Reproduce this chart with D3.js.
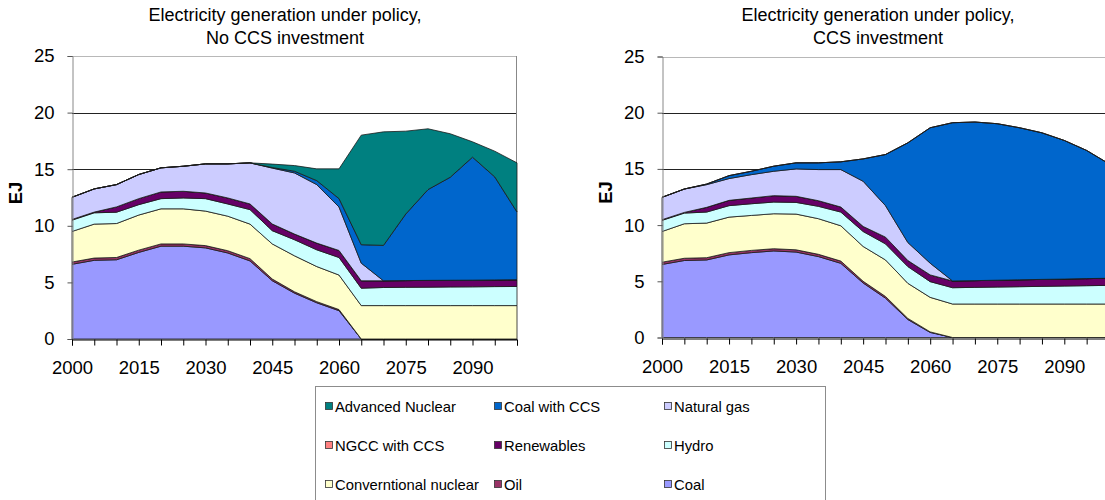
<!DOCTYPE html>
<html>
<head>
<meta charset="utf-8">
<script src="https://cdn.jsdelivr.net/npm/d3@7"></script>
<style>
  html, body { margin: 0; padding: 0; background: #fff; }
  svg { display: block; font-family: "Liberation Sans", Arial, sans-serif; }
</style>
</head>
<body>
<svg id="chart" width="1105" height="500"></svg>
<script>
// Categories (5-year steps) and the subset of labels printed on the axis
const years = [2000, 2005, 2010, 2015, 2020, 2025, 2030, 2035, 2040, 2045, 2050,
               2055, 2060, 2065, 2070, 2075, 2080, 2085, 2090, 2095, 2100];
const yearLabels = [2000, 2015, 2030, 2045, 2060, 2075, 2090];
const yTicks = [0, 5, 10, 15, 20, 25];

// Technologies, bottom of the stack first
const techKeys = ["coal", "oil", "nuclear", "hydro", "renewables", "ngccCcs", "gas", "coalCcs", "advNuclear"];
const techNames = {
  advNuclear: "Advanced Nuclear", coalCcs: "Coal with CCS", gas: "Natural gas",
  ngccCcs: "NGCC with CCS", renewables: "Renewables", hydro: "Hydro",
  nuclear: "Converntional nuclear", oil: "Oil", coal: "Coal"
};
const techColors = {
  advNuclear: "#008080", coalCcs: "#0066CC", gas: "#CCCCFF",
  ngccCcs: "#FF8080", renewables: "#660066", hydro: "#CCFFFF",
  nuclear: "#FFFFCC", oil: "#993366", coal: "#9999FF"
};
// Legend reading order (three per row)
const legendOrder = ["advNuclear", "coalCcs", "gas", "ngccCcs", "renewables", "hydro", "nuclear", "oil", "coal"];

// Scenario 1: no CCS investment (EJ)
const noCcsCoal       = [6.6, 6.95, 7.0, 7.65, 8.2, 8.2, 8.05, 7.6, 6.9, 5.15, 4.05, 3.2, 2.5, 0, 0, 0, 0, 0, 0, 0, 0];
const noCcsOil        = [0.2, 0.2, 0.2, 0.2, 0.2, 0.2, 0.2, 0.2, 0.2, 0.15, 0.12, 0.1, 0.1, 0, 0, 0, 0, 0, 0, 0, 0];
const noCcsNuclear    = [2.7, 3.0, 3.0, 3.1, 3.1, 3.1, 3.05, 3.05, 3.05, 3.1, 3.18, 3.1, 3.05, 2.95, 2.95, 2.95, 2.95, 2.95, 2.95, 2.95, 2.95];
const noCcsHydro      = [1.0, 1.0, 1.0, 0.92, 0.9, 0.96, 1.1, 1.08, 1.28, 1.17, 1.42, 1.48, 1.55, 1.54, 1.6, 1.62, 1.63, 1.65, 1.66, 1.68, 1.69];
const noCcsRenewables = [0.06, 0.06, 0.47, 0.53, 0.59, 0.59, 0.5, 0.53, 0.5, 0.59, 0.5, 0.59, 0.62, 0.65, 0.59, 0.59, 0.6, 0.59, 0.59, 0.59, 0.59];
const noCcsNgccCcs    = [0, 0, 0, 0, 0, 0, 0, 0, 0, 0, 0, 0, 0, 0, 0, 0, 0, 0, 0, 0, 0];
const noCcsGas        = [1.96, 2.05, 1.97, 2.13, 2.13, 2.21, 2.57, 3.01, 3.63, 4.94, 5.4, 5.17, 3.84, 1.56, 0, 0, 0, 0, 0, 0, 0];
const noCcsCoalCcs    = [0, 0, 0, 0, 0, 0, 0, 0, 0, 0.05, 0.15, 0.35, 0.74, 1.63, 3.13, 5.88, 8.02, 9.1, 10.86, 9.1, 5.99];
const noCcsAdvNuclear = [0, 0, 0, 0, 0, 0, 0, 0, 0, 0.3, 0.5, 1.04, 2.63, 9.68, 10.03, 7.32, 5.37, 3.84, 1.36, 2.27, 4.34];

// Scenario 2: CCS investment (EJ)
const ccsCoal       = [6.5, 6.85, 6.9, 7.35, 7.55, 7.7, 7.6, 7.2, 6.6, 4.85, 3.5, 1.6, 0.45, 0, 0, 0, 0, 0, 0, 0, 0];
const ccsOil        = [0.2, 0.2, 0.2, 0.2, 0.2, 0.2, 0.2, 0.2, 0.2, 0.15, 0.15, 0.1, 0.05, 0, 0, 0, 0, 0, 0, 0, 0];
const ccsNuclear    = [2.73, 3.07, 3.08, 3.16, 3.11, 3.11, 3.18, 3.17, 3.14, 3.1, 3.25, 3.12, 3.07, 2.98, 2.98, 2.98, 2.98, 2.98, 2.98, 2.98, 2.98];
const ccsHydro      = [0.99, 0.95, 0.98, 1.02, 1.04, 1.04, 1.04, 1.1, 1.22, 1.33, 1.43, 1.49, 1.4, 1.45, 1.48, 1.51, 1.54, 1.57, 1.6, 1.63, 1.66];
const ccsRenewables = [0.06, 0.06, 0.42, 0.47, 0.51, 0.57, 0.54, 0.5, 0.45, 0.45, 0.6, 0.54, 0.6, 0.6, 0.6, 0.61, 0.61, 0.62, 0.62, 0.63, 0.63];
const ccsNgccCcs    = [0, 0, 0, 0, 0, 0, 0, 0, 0, 0, 0, 0, 0, 0, 0, 0, 0, 0, 0, 0, 0];
const ccsGas        = [1.99, 2.08, 2.02, 1.94, 2.08, 2.17, 2.44, 2.77, 3.33, 4.02, 2.8, 1.6, 1.04, 0, 0, 0, 0, 0, 0, 0, 0];
const ccsCoalCcs    = [0, 0, 0.05, 0.26, 0.3, 0.45, 0.54, 0.6, 0.69, 1.99, 4.55, 8.87, 12.05, 14.08, 14.11, 13.92, 13.53, 13.04, 12.33, 11.4, 10.18];
const ccsAdvNuclear = [0, 0, 0, 0, 0, 0, 0, 0, 0, 0, 0, 0, 0, 0, 0, 0, 0, 0, 0, 0, 0];

function toRows(series) {
  return years.map((yr, i) => {
    const row = { year: yr };
    techKeys.forEach(k => { row[k] = series[k][i]; });
    return row;
  });
}

const panels = [
  {
    title: ["Electricity generation under policy,", "No CCS investment"],
    titleX: 285, x0: 72, x1: 517, yBottom: 339, yTop: 56,
    rows: toRows({
      coal: noCcsCoal, oil: noCcsOil, nuclear: noCcsNuclear, hydro: noCcsHydro,
      renewables: noCcsRenewables, ngccCcs: noCcsNgccCcs, gas: noCcsGas,
      coalCcs: noCcsCoalCcs, advNuclear: noCcsAdvNuclear
    })
  },
  {
    title: ["Electricity generation under policy,", "CCS investment"],
    titleX: 878, x0: 662, x1: 1109, yBottom: 337.5, yTop: 56.5,
    rows: toRows({
      coal: ccsCoal, oil: ccsOil, nuclear: ccsNuclear, hydro: ccsHydro,
      renewables: ccsRenewables, ngccCcs: ccsNgccCcs, gas: ccsGas,
      coalCcs: ccsCoalCcs, advNuclear: ccsAdvNuclear
    })
  }
];

const svg = d3.select("#chart");
const stack = d3.stack().keys(techKeys);

panels.forEach(p => {
  const x = d3.scalePoint().domain(years).range([p.x0, p.x1]);
  const y = d3.scaleLinear().domain([0, 25]).range([p.yBottom, p.yTop]);
  const g = svg.append("g");

  // Titles
  g.append("text")
    .attr("x", p.titleX).attr("y", 21)
    .attr("text-anchor", "middle").attr("font-size", 18).attr("fill", "#000")
    .text(p.title[0]);
  g.append("text")
    .attr("x", p.titleX).attr("y", 44)
    .attr("text-anchor", "middle").attr("font-size", 18).attr("fill", "#000")
    .text(p.title[1]);

  // Horizontal gridlines
  g.append("g").selectAll("line")
    .data(yTicks.filter(t => t > 0))
    .join("line")
    .attr("x1", p.x0).attr("x2", p.x1)
    .attr("y1", d => Math.round(y(d)) + 0.5).attr("y2", d => Math.round(y(d)) + 0.5)
    .attr("stroke", d => d === 25 ? "#b8b8b8" : "#222")
    .attr("stroke-width", 1);

  // Right plot border
  g.append("line")
    .attr("x1", Math.round(p.x1) - 0.5).attr("x2", Math.round(p.x1) - 0.5)
    .attr("y1", y(25)).attr("y2", y(0))
    .attr("stroke", "#888");

  // Stacked areas
  const area = d3.area()
    .x(d => x(d.data.year))
    .y0(d => y(d[0]))
    .y1(d => y(d[1]));
  g.append("g").selectAll("path")
    .data(stack(p.rows))
    .join("path")
    .attr("d", area)
    .attr("fill", d => techColors[d.key])
    .attr("stroke", "#1a1a1a")
    .attr("stroke-width", 0.8)
    .attr("stroke-linejoin", "round");

  // Y axis
  const yAxis = d3.axisLeft(y).tickValues(yTicks).tickSize(5).tickPadding(13).tickFormat(d3.format("d"));
  const ya = g.append("g").attr("transform", `translate(${Math.round(p.x0) + 0.5},0)`).call(yAxis);
  ya.select(".domain").attr("stroke", "#888");
  ya.selectAll(".tick line").attr("stroke", "#555");
  ya.selectAll(".tick text").attr("font-size", 18.5).attr("fill", "#000")
    .attr("font-family", "'Liberation Sans', Arial, sans-serif");

  // X axis
  const xAxis = d3.axisBottom(x).tickSize(6).tickPadding(15)
    .tickFormat(d => yearLabels.includes(d) ? String(d) : "");
  const xa = g.append("g").attr("transform", `translate(0,${Math.round(p.yBottom) + 0.5})`).call(xAxis);
  xa.select(".domain").attr("stroke", "#000");
  xa.selectAll(".tick line").attr("stroke", "#000");
  xa.selectAll(".tick text").attr("font-size", 18.5).attr("fill", "#000")
    .attr("font-family", "'Liberation Sans', Arial, sans-serif");

  // Y axis title
  g.append("text")
    .attr("transform", `translate(${p.x0 - 50},${y(12.9)}) rotate(-90)`)
    .attr("text-anchor", "middle").attr("font-size", 18.5).attr("font-weight", "bold")
    .text("EJ");
});

// Legend
const legend = svg.append("g");
legend.append("rect")
  .attr("x", 315.5).attr("y", 386.5).attr("width", 510).attr("height", 130)
  .attr("fill", "#fff").attr("stroke", "#8c8c8c");
const colX = [325, 494, 664];
const rowY = [406, 445, 484];
legendOrder.forEach((k, i) => {
  const cx = colX[i % 3], cy = rowY[Math.floor(i / 3)];
  legend.append("rect")
    .attr("x", cx + 0.5).attr("y", cy - 3.5).attr("width", 7).attr("height", 7)
    .attr("fill", techColors[k]).attr("stroke", "#333").attr("stroke-width", 0.8);
  legend.append("text")
    .attr("x", cx + 10).attr("y", cy + 5.5)
    .attr("font-size", 14.8).attr("fill", "#000")
    .text(techNames[k]);
});
</script>
</body>
</html>
